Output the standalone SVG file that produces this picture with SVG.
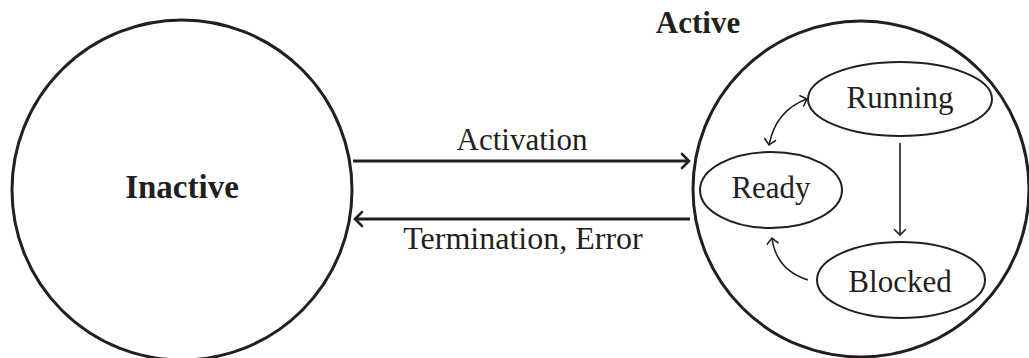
<svg xmlns="http://www.w3.org/2000/svg" width="1029" height="358" viewBox="0 0 1029 358">
<style>
.big{fill:none;stroke:#231f20;stroke-width:3}
.ell{fill:none;stroke:#231f20;stroke-width:2}
.txt{font-family:"Liberation Serif","Times New Roman",serif;font-size:31px;fill:#231f20;text-anchor:middle}
.bold{font-weight:bold}
.main{fill:none;stroke:#231f20;stroke-width:3}
.thin{fill:none;stroke:#231f20;stroke-width:1.6}
</style>
<defs>
<marker id="headBig" markerUnits="userSpaceOnUse" viewBox="-10 -10 20 20" markerWidth="20" markerHeight="20" refX="0" refY="0" orient="auto-start-reverse" overflow="visible">
<path d="M -7 -7 Q -1.5 -1.5 0 0 Q -1.5 1.5 -7 7" fill="none" stroke="#231f20" stroke-width="2.6" stroke-linecap="round"/>
</marker>
<marker id="headThin" markerUnits="userSpaceOnUse" viewBox="-10 -10 20 20" markerWidth="20" markerHeight="20" refX="0" refY="0" orient="auto-start-reverse" overflow="visible">
<path d="M -5.5 -5.5 Q -1.2 -1.2 0 0 Q -1.2 1.2 -5.5 5.5" fill="none" stroke="#231f20" stroke-width="1.6" stroke-linecap="round"/>
</marker>
</defs>
<g id="inactive">
<circle class="big" cx="182" cy="190" r="170"/>
<text class="txt bold" x="182" y="198" style="font-size:33px">Inactive</text>
</g>
<g id="active">
<circle class="big" cx="861" cy="189" r="168"/>
<text class="txt bold" x="698" y="33">Active</text>
</g>
<g id="ready">
<ellipse class="ell" cx="771" cy="190" rx="71" ry="38"/>
<text class="txt" x="771" y="198">Ready</text>
</g>
<g id="running">
<ellipse class="ell" cx="900" cy="99" rx="92" ry="37"/>
<text class="txt" x="900" y="108">Running</text>
</g>
<g id="blocked">
<ellipse class="ell" cx="901" cy="280" rx="84" ry="38"/>
<text class="txt" x="900" y="292">Blocked</text>
</g>
<g id="connectors">
<path class="main" d="M 353 161 L 689 161" marker-end="url(#headBig)"/>
<text class="txt" x="522" y="150">Activation</text>
<path class="main" d="M 690 219 L 355 219" marker-end="url(#headBig)"/>
<text class="txt" x="523" y="249" style="font-size:32px">Termination, Error</text>
<path class="thin" d="M 769 145 Q 776 110 807 99" marker-start="url(#headThin)" marker-end="url(#headThin)"/>
<path class="thin" d="M 900 143 L 900 235" marker-end="url(#headThin)"/>
<path class="thin" d="M 808 280 Q 776 270 772 238" marker-end="url(#headThin)"/>
</g>
</svg>
